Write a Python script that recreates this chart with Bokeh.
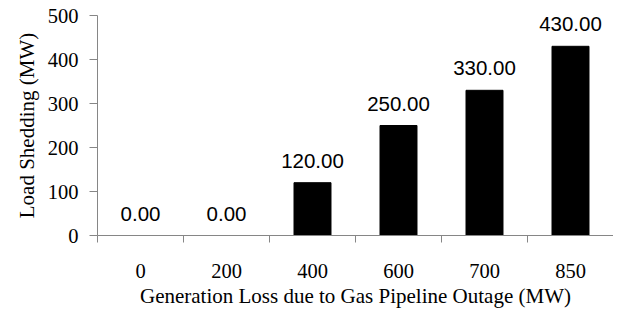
from bokeh.plotting import figure
from bokeh.models import ColumnDataSource, Range1d, FixedTicker, LabelSet, Title
from bokeh.core.properties import value
from bokeh.embed import file_html
from bokeh.resources import INLINE

categories = ["0", "200", "400", "600", "700", "850"]
values = [0, 0, 120, 250, 330, 430]
y_ticks = [0, 100, 200, 300, 400, 500]

xpos = [i + 0.5 for i in range(len(categories))]
labels = ["%.2f" % v for v in values]
src = ColumnDataSource(dict(x=xpos, top=values, label=labels))

AXIS = "#868686"
SERIF = "Liberation Serif"
SANS = "Liberation Sans"

p = figure(width=613, height=310, output_backend="svg", toolbar_location=None,
           x_range=Range1d(0, len(categories)), y_range=Range1d(0, 500),
           min_border_left=97, min_border_right=0, min_border_top=15, min_border_bottom=74)
p.outline_line_color = None
p.grid.visible = False
p.background_fill_color = "white"
p.border_fill_color = "white"

p.vbar(x="x", top="top", width=0.43, bottom=0, source=src, fill_color="black", line_color="black")

lbl = LabelSet(x="x", y="top", text="label", source=src, text_align="center",
               text_baseline="bottom", y_offset=15, text_font=value(SANS),
               text_font_size=value("20.5px"), text_color="black")
p.add_layout(lbl)

# x axis
xa = p.xaxis[0]
xa.ticker = FixedTicker(ticks=xpos, minor_ticks=list(range(len(categories) + 1)))
xa.major_label_overrides = {x: c for x, c in zip(xpos, categories)}
xa.major_tick_line_color = None
xa.major_tick_out = 0
xa.major_tick_in = 0
xa.minor_tick_line_color = AXIS
xa.minor_tick_out = 7
xa.minor_tick_in = 0
xa.axis_line_color = AXIS
xa.major_label_text_font = SERIF
xa.major_label_text_font_size = "20.5px"
xa.major_label_text_color = "black"
xa.major_label_standoff = 21
xa.axis_label = "Generation Loss due to Gas Pipeline Outage (MW)"
xa.axis_label_text_font = SERIF
xa.axis_label_text_font_size = "21px"
xa.axis_label_text_font_style = "normal"
xa.axis_label_text_color = "black"
xa.axis_label_standoff = 3

# y axis
ya = p.yaxis[0]
ya.ticker = FixedTicker(ticks=y_ticks, minor_ticks=[])
ya.axis_line_color = AXIS
ya.major_tick_line_color = AXIS
ya.major_tick_out = 8
ya.major_tick_in = 0
ya.minor_tick_line_color = None
ya.major_label_text_font = SERIF
ya.major_label_text_font_size = "20.5px"
ya.major_label_text_color = "black"
ya.major_label_standoff = 11

ytitle = Title(text="Load Shedding (MW)", align="center", offset=12,
               text_font=SERIF, text_font_size="21px", text_font_style="normal",
               text_color="black", standoff=11)
p.add_layout(ytitle, "left")

open("out.html", "w").write(file_html(p, INLINE))
